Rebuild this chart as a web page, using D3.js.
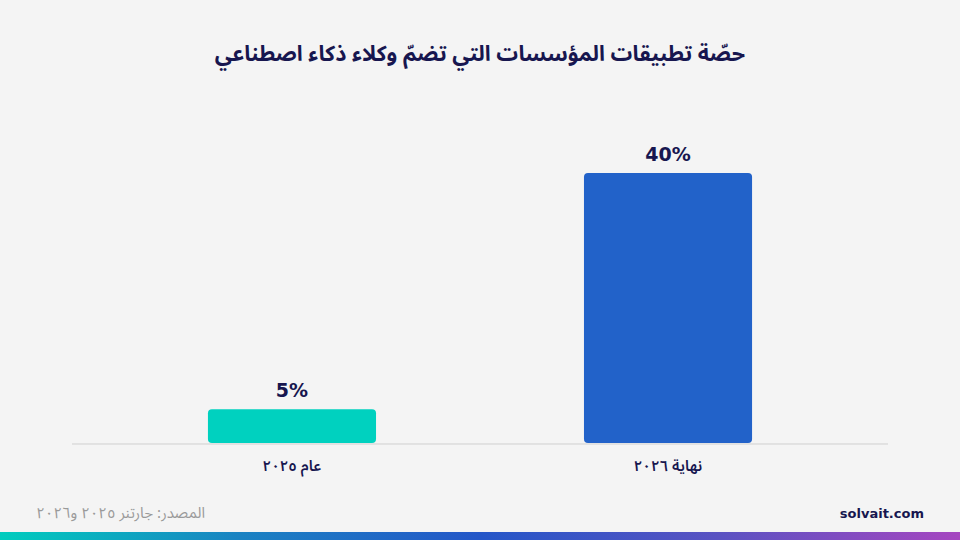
<!DOCTYPE html>
<html lang="ar">
<head>
<meta charset="utf-8">
<script src="https://cdn.jsdelivr.net/npm/d3@7"></script>
<style>
  html, body { margin: 0; padding: 0; background: #f4f4f4; }
  svg { display: block; }
</style>
</head>
<body>
<svg id="chart" width="960" height="540"></svg>
<script>
const categories = ["عام ٢٠٢٥", "نهاية ٢٠٢٦"];
const values = [5, 40];
const valueLabels = ["5%", "40%"];
const barColors = ["#00d1bf", "#2262c9"];
const titleText = "حصّة تطبيقات المؤسسات التي تضمّ وكلاء ذكاء اصطناعي";
const sourceText = "المصدر: جارتنر ٢٠٢٥ و٢٠٢٦";
const brandText = "solvait.com";
const gradientStops = ["#00cdbe", "#1a82c2", "#2456c8", "#5a52c2", "#a646c0"];

const W = 960, H = 540;
const svg = d3.select("#chart");
const arabicFont = "'Noto Sans Arabic','Noto Sans','DejaVu Sans',sans-serif";
const latinFont = "'DejaVu Sans',sans-serif";

svg.append("rect").attr("width", W).attr("height", H).attr("fill", "#f4f4f4");

const x = d3.scaleBand().domain(categories).range([0, W]).paddingInner(0.553).paddingOuter(0.553);
const y = d3.scaleLinear().domain([0, 40]).range([443, 173]);

// title
svg.append("text")
  .attr("x", W / 2).attr("y", 61)
  .attr("text-anchor", "middle")
  .attr("direction", "rtl")
  .attr("font-family", arabicFont)
  .attr("font-weight", 700)
  .attr("font-size", 21.6)
  .attr("fill", "#17164f")
  .text(titleText);

// baseline
svg.append("line")
  .attr("x1", 72).attr("x2", 888)
  .attr("y1", 444).attr("y2", 444)
  .attr("stroke", "#cfcfcf").attr("stroke-width", 1);

// bars
svg.selectAll("rect.bar").data(values).enter().append("rect")
  .attr("class", "bar")
  .attr("x", (d, i) => x(categories[i]))
  .attr("width", x.bandwidth())
  .attr("y", d => y(d))
  .attr("height", d => y(0) - y(d))
  .attr("rx", 4).attr("ry", 4)
  .attr("fill", (d, i) => barColors[i]);

// value labels
svg.selectAll("text.val").data(values).enter().append("text")
  .attr("class", "val")
  .attr("x", (d, i) => x(categories[i]) + x.bandwidth() / 2)
  .attr("y", d => y(d) - 12)
  .attr("text-anchor", "middle")
  .attr("font-family", latinFont)
  .attr("font-weight", 700)
  .attr("font-size", 19)
  .attr("fill", "#17164f")
  .text((d, i) => valueLabels[i]);

// category labels
svg.selectAll("text.cat").data(categories).enter().append("text")
  .attr("class", "cat")
  .attr("x", d => x(d) + x.bandwidth() / 2)
  .attr("y", 471)
  .attr("text-anchor", "middle")
  .attr("direction", "rtl")
  .attr("font-family", arabicFont)
  .attr("font-weight", 600)
  .attr("font-size", 15)
  .attr("fill", "#17164f")
  .text(d => d);

// source
svg.append("text")
  .attr("x", 205).attr("y", 518)
  .attr("text-anchor", "start")
  .attr("direction", "rtl")
  .attr("font-family", arabicFont)
  .attr("font-size", 15)
  .attr("fill", "#9a9a9a")
  .text(sourceText);

// brand
svg.append("text")
  .attr("x", 924).attr("y", 518)
  .attr("text-anchor", "end")
  .attr("font-family", latinFont)
  .attr("font-weight", 700)
  .attr("font-size", 13)
  .attr("fill", "#17164f")
  .text(brandText);

// bottom gradient strip
const defs = svg.append("defs");
const grad = defs.append("linearGradient").attr("id", "strip").attr("x1", "0%").attr("x2", "100%");
grad.selectAll("stop").data(gradientStops).enter().append("stop")
  .attr("offset", (d, i) => (i / (gradientStops.length - 1) * 100) + "%")
  .attr("stop-color", d => d);
svg.append("rect").attr("x", 0).attr("y", 532).attr("width", W).attr("height", 8).attr("fill", "url(#strip)");
</script>
</body>
</html>
